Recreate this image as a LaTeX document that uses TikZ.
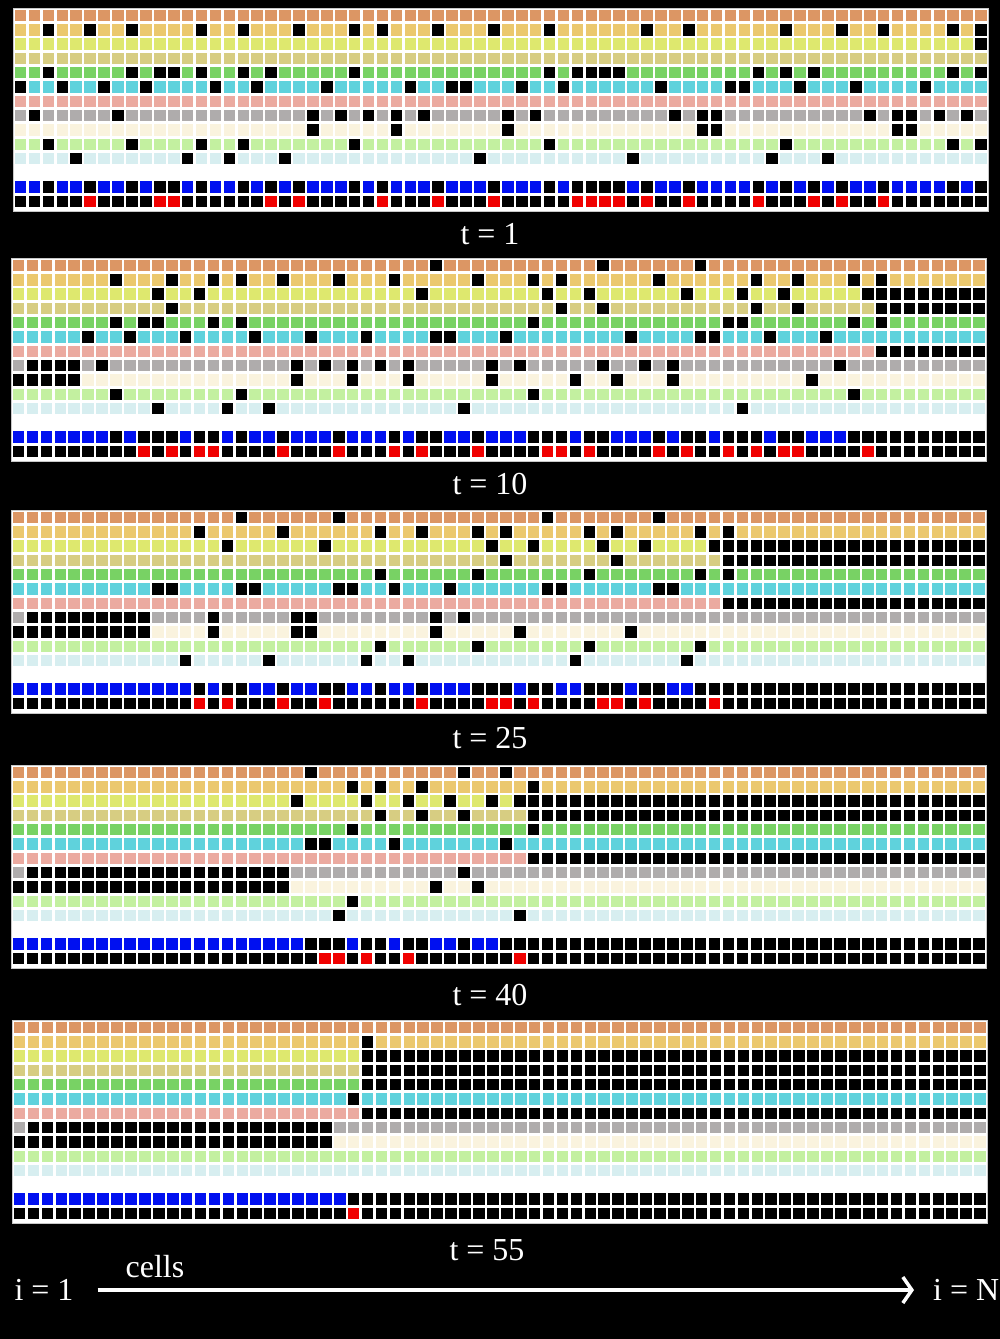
\documentclass[tikz,border=0pt]{standalone}
\usepackage{fontspec}
\setmainfont{Liberation Serif}
\usetikzlibrary{arrows.meta}
\definecolor{rA}{HTML}{DC9664}
\definecolor{rB}{HTML}{EBC86E}
\definecolor{rC}{HTML}{DEE86E}
\definecolor{rD}{HTML}{D7CD82}
\definecolor{rE}{HTML}{78D264}
\definecolor{rF}{HTML}{5FD2DC}
\definecolor{rG}{HTML}{EBAAA0}
\definecolor{rH}{HTML}{AFACAC}
\definecolor{rI}{HTML}{FAF3DE}
\definecolor{rJ}{HTML}{C3F0A0}
\definecolor{rK}{HTML}{D7EEF0}
\definecolor{cblue}{HTML}{0010F0}
\definecolor{cred}{HTML}{F00000}
\definecolor{frame}{HTML}{C8C8C8}
\tikzset{
  lbl/.style={text=white, font=\fontsize{32}{36}\selectfont, inner sep=0pt},
  panelbg/.style={fill=white, draw=frame, line width=1pt},
  arrowline/.style={draw=white, line width=3.5pt, -{Straight Barb[length=9pt,width=26pt,line width=3.5pt]}}
}
\newcommand\cellbox[3]{\fill[#3] ({1.8+13.92*#2},{1.8+14.3*#1}) rectangle ++(11.6,11.4);}
\newcommand\fullrow[2]{\foreach \cc in {0,...,69}{\cellbox{#1}{\cc}{#2}}}
\newcommand\setcells[3]{\foreach \cc in {#2}{\cellbox{#1}{\cc}{#3}}}
\newcommand\basegrid{%
  \fill[panelbg] (0,0) rectangle (975,203);
  \fullrow{0}{rA}\fullrow{1}{rB}\fullrow{2}{rC}\fullrow{3}{rD}\fullrow{4}{rE}
  \fullrow{5}{rF}\fullrow{6}{rG}\fullrow{7}{rH}\fullrow{8}{rI}\fullrow{9}{rJ}
  \fullrow{10}{rK}\fullrow{12}{cblue}\fullrow{13}{black}}
\begin{document}
\begin{tikzpicture}[x=1pt,y=-1pt]
\fill[black] (0,0) rectangle (1000,1339);
\useasboundingbox (0,0) rectangle (1000,1339);

% ---------- panel t = 1
\begin{scope}[shift={(13,8)}]
\basegrid
\setcells{1}{2,5,8,13,16,20,24,26,30,34,38,45,48,55,59,62,67,69}{black}
\setcells{2}{69}{black}
\setcells{4}{2,8,10,11,13,16,18,24,38,40,41,42,43,53,55,57,67,69}{black}
\setcells{5}{0,3,6,9,14,17,22,28,31,32,36,39,46,51,52,56,60,65}{black}
\setcells{7}{1,7,21,23,25,27,29,35,37,47,49,50,61,63,64,66,68}{black}
\setcells{8}{21,27,35,49,50,63,64}{black}
\setcells{9}{2,8,13,16,24,38,55,67,69}{black}
\setcells{10}{4,12,15,19,33,44,54,58}{black}
\setcells{12}{2,5,8,10,11,13,16,18,20,24,26,30,34,38,40,41,42,43,45,48,53,55,57,59,62,67,69}{black}
\setcells{13}{5,10,11,18,20,26,30,34,40,41,42,43,45,48,53,57,59,62}{cred}
\end{scope}

% ---------- panel t = 10
\begin{scope}[shift={(11,258)}]
\basegrid
\setcells{0}{30,42,49}{black}
\setcells{1}{7,11,14,16,19,23,27,33,37,39,46,53,56,60,62}{black}
\setcells{2}{10,13,29,38,41,48,52,55,61}{black}
\setcells{2}{62,...,69}{black}
\setcells{3}{11,39,42,53,56}{black}
\setcells{3}{62,...,69}{black}
\setcells{4}{7,9,10,14,16,37,51,52,60,62}{black}
\setcells{5}{5,8,12,17,21,25,30,31,35,44,49,50,54,58}{black}
\setcells{6}{62,...,69}{black}
\setcells{7}{1,2,3,4,6,20,22,24,26,28,34,36,42,45,47,59}{black}
\setcells{8}{0,1,2,3,4,20,24,28,34,40,43,47,57}{black}
\setcells{9}{7,16,37,60}{black}
\setcells{10}{10,15,18,32,52}{black}
\setcells{12}{7,9,10,11,13,14,16,19,23,27,29,30,33,37,38,39,41,42,46,48,49,51,52,53,55,56,60,61}{black}
\setcells{12}{62,...,69}{black}
\setcells{13}{9,11,13,14,19,23,27,29,33,38,39,41,46,48,51,53,55,56,61}{cred}
\end{scope}

% ---------- panel t = 25
\begin{scope}[shift={(11,510)}]
\basegrid
\setcells{0}{16,23,38,46}{black}
\setcells{1}{13,19,26,29,33,35,41,43,49,51}{black}
\setcells{2}{15,22,34,37,42,45,50}{black}
\setcells{2}{51,...,69}{black}
\setcells{3}{35,43}{black}
\setcells{3}{51,...,69}{black}
\setcells{4}{26,33,41,49,51}{black}
\setcells{5}{10,11,16,17,23,24,27,31,38,39,46,47}{black}
\setcells{6}{51,...,69}{black}
\setcells{7}{1,...,9}{black}
\setcells{7}{14,20,21,30,32}{black}
\setcells{8}{0,...,9}{black}
\setcells{8}{14,20,21,30,36,44}{black}
\setcells{9}{26,33,41,49}{black}
\setcells{10}{12,18,25,28,40,48}{black}
\setcells{12}{13,15,16,19,22,23,26,29,33,34,35,37,38,41,42,43,45,46,49,50}{black}
\setcells{12}{51,...,69}{black}
\setcells{13}{13,15,19,22,29,34,35,37,42,43,45,50}{cred}
\end{scope}

% ---------- panel t = 40
\begin{scope}[shift={(11,765)}]
\basegrid
\setcells{0}{21,32,35}{black}
\setcells{1}{24,26,29,37}{black}
\setcells{2}{20,25,28,31,34}{black}
\setcells{2}{36,...,69}{black}
\setcells{3}{26,29,32}{black}
\setcells{3}{37,...,69}{black}
\setcells{4}{24,37}{black}
\setcells{5}{21,22,27,35}{black}
\setcells{6}{37,...,69}{black}
\setcells{7}{1,...,19}{black}
\setcells{7}{32}{black}
\setcells{8}{0,...,19}{black}
\setcells{8}{30,33}{black}
\setcells{9}{24}{black}
\setcells{10}{23,36}{black}
\setcells{12}{21,22,23,25,26,28,29,32}{black}
\setcells{12}{35,...,69}{black}
\setcells{13}{22,23,25,28,36}{cred}
\end{scope}

% ---------- panel t = 55
\begin{scope}[shift={(12,1020)}]
\basegrid
\setcells{1}{25}{black}
\setcells{2}{25,...,69}{black}
\setcells{3}{25,...,69}{black}
\setcells{4}{25,...,69}{black}
\setcells{5}{24}{black}
\setcells{6}{25,...,69}{black}
\setcells{7}{1,...,22}{black}
\setcells{8}{0,...,22}{black}
\setcells{12}{24,...,69}{black}
\setcells{13}{24}{cred}
\end{scope}

% ---------- labels
\node[lbl] (t1) at (490,234) {t = 1};
\node[lbl] (t10) at (490,484) {t = 10};
\node[lbl] (t25) at (490,738) {t = 25};
\node[lbl] (t40) at (490,995) {t = 40};
\node[lbl] (t55) at (487,1250) {t = 55};
\node[lbl] (cells) at (155,1267) {cells};
\node[lbl] (i1) at (44,1290) {i = 1};
\node[lbl, anchor=west] (iN) at (933,1290) {i = N};
\draw[arrowline] ([xshift=24pt]i1.east) -- ([xshift=-19pt]iN.west);
\end{tikzpicture}
\end{document}
